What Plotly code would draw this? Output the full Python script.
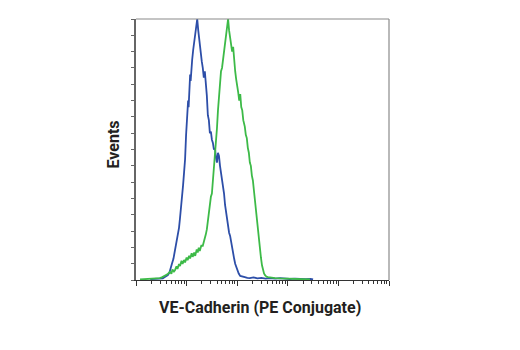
import plotly.graph_objects as go

# log10 of fluorescence intensity, and event counts
blue_logx = [0.28, 0.40, 0.47, 0.53, 0.57, 0.61, 0.63, 0.66, 0.67, 0.70, 0.71, 0.74, 0.77, 0.79, 0.81, 0.83, 0.85, 0.87,
             0.89, 0.91, 0.93, 0.95, 0.97, 0.99, 1.01, 1.03, 1.04, 1.05, 1.07, 1.08, 1.09, 1.11, 1.13, 1.15, 1.17,
             1.19, 1.21, 1.23, 1.25, 1.26, 1.28, 1.30, 1.32, 1.34, 1.36, 1.38, 1.40, 1.42, 1.44, 1.46, 1.48, 1.50,
             1.52, 1.54, 1.56, 1.58, 1.60, 1.62, 1.64, 1.66, 1.68, 1.70, 1.72, 1.74, 1.76, 1.78, 1.80, 1.82, 1.84,
             1.86, 1.88, 1.90, 1.92, 1.94, 1.96, 1.98, 2.00, 2.03, 2.06, 2.10, 2.15, 2.20, 2.25, 2.32, 2.40, 2.48,
             2.56, 2.65, 2.75, 2.85, 2.95, 3.04, 3.14, 3.24, 3.35, 3.45, 3.50]
blue_y = [0.5, 0.9, 1.2, 1.0, 1.8, 2.4, 3.0, 4.5, 6.0, 8.5, 10.0, 13.0, 18.0, 21.0, 25.0, 29.0, 32.0, 38.0,
          44.0, 49.0, 58.0, 66.0, 74.0, 89.0, 98.0, 110.0, 106.0, 117.0, 126.0, 122.0, 130.0, 135.0, 141.0, 146.0, 150.0,
          156.0, 160.0, 153.0, 147.0, 142.0, 138.0, 134.0, 130.0, 124.0, 128.0, 121.0, 113.0, 101.0, 98.0, 90.0, 91.0, 86.0,
          84.0, 80.0, 81.0, 75.0, 72.0, 78.0, 76.0, 70.0, 66.0, 64.0, 58.0, 53.0, 46.0, 42.0, 36.0, 34.0, 29.0,
          27.0, 23.0, 21.0, 17.0, 13.0, 10.0, 8.0, 6.0, 4.0, 2.5, 2.0, 1.8, 1.3, 1.2, 1.6, 1.0, 1.3,
          0.9, 1.1, 0.8, 1.2, 0.7, 0.6, 0.8, 0.6, 0.5, 0.7, 0.4]

green_logx = [0.08, 0.18, 0.28, 0.38, 0.47, 0.52, 0.57, 0.62, 0.67, 0.70, 0.72, 0.75, 0.77, 0.80, 0.82, 0.85, 0.87, 0.90,
              0.92, 0.95, 0.97, 1.00, 1.02, 1.05, 1.07, 1.10, 1.12, 1.15, 1.17, 1.20, 1.22, 1.24, 1.26, 1.29, 1.32,
              1.34, 1.36, 1.38, 1.40, 1.42, 1.44, 1.46, 1.48, 1.50, 1.52, 1.54, 1.56, 1.58, 1.60, 1.62, 1.64, 1.66,
              1.68, 1.70, 1.72, 1.74, 1.76, 1.78, 1.80, 1.82, 1.84, 1.86, 1.88, 1.90, 1.92, 1.94, 1.96, 1.98, 2.00,
              2.02, 2.04, 2.06, 2.08, 2.10, 2.12, 2.15, 2.17, 2.19, 2.21, 2.23, 2.25, 2.27, 2.29, 2.31, 2.33, 2.35,
              2.37, 2.39, 2.41, 2.43, 2.45, 2.47, 2.49, 2.51, 2.53, 2.55, 2.58, 2.61, 2.68, 2.75, 2.85, 2.95, 3.04,
              3.14, 3.24, 3.34, 3.44]
green_y = [0.3, 0.5, 0.6, 0.9, 1.2, 1.8, 2.5, 3.5, 5.0, 3.8, 6.5, 5.2, 6.0, 8.3, 6.8, 9.8, 8.6, 11.8,
           9.8, 12.3, 10.8, 13.8, 12.2, 14.8, 13.2, 16.4, 14.2, 16.8, 14.8, 18.8, 16.8, 19.8, 17.8, 21.0, 21.0,
           23.0, 25.0, 28.0, 31.0, 36.0, 42.0, 49.0, 51.0, 53.0, 60.0, 67.0, 74.0, 86.0, 93.0, 104.0, 113.0, 124.0,
           128.0, 130.0, 135.0, 141.0, 147.0, 153.0, 156.0, 160.0, 153.0, 148.0, 146.0, 140.0, 143.0, 134.0, 128.0, 123.0, 120.0,
           115.0, 110.0, 114.0, 106.0, 104.0, 98.0, 94.0, 89.0, 87.0, 81.0, 78.0, 72.0, 70.0, 64.0, 61.0, 55.0, 49.0,
           42.0, 34.0, 29.0, 25.0, 19.0, 13.5, 9.0, 6.0, 4.0, 3.0, 2.0, 1.8, 1.4, 1.2, 1.0, 0.9, 0.9,
           0.6, 0.7, 0.5, 0.3]

x_title = "VE-Cadherin (PE Conjugate)"
y_title = "Events"

blue = "#2d4ea8"
green = "#3dba48"
title_font = dict(family="Roboto, Liberation Sans, Arial", size=16, color="#231f20", weight="bold")

fig = go.Figure()
fig.add_trace(go.Scatter(x=[10 ** v for v in blue_logx], y=blue_y, mode="lines",
                         line=dict(color=blue, width=1.8), hoverinfo="skip"))
fig.add_trace(go.Scatter(x=[10 ** v for v in green_logx], y=green_y, mode="lines",
                         line=dict(color=green, width=1.8), hoverinfo="skip"))

fig.update_layout(
    width=520, height=350,
    margin=dict(l=136, r=131, t=19, b=70),
    paper_bgcolor="white", plot_bgcolor="white",
    showlegend=False,
    xaxis=dict(type="log", range=[0, 5], showgrid=False, zeroline=False,
               showline=True, linecolor="#333333", linewidth=1.2,
               ticks="outside", ticklen=5, tickcolor="#333333", tickwidth=1,
               dtick=1, showticklabels=False,
               minor=dict(ticks="outside", ticklen=3, tickcolor="#333333", dtick="D1", showgrid=False)),
    yaxis=dict(range=[0, 160], showgrid=False, zeroline=False,
               showline=True, linecolor="#666666", linewidth=1.5,
               ticks="outside", ticklen=3, tickcolor="#666666", dtick=10,
               showticklabels=False),
    shapes=[
        dict(type="line", xref="paper", yref="paper", x0=0, x1=1, y0=1, y1=1,
             line=dict(color="#8a8a8a", width=1.2)),
        dict(type="line", xref="paper", yref="paper", x0=1, x1=1, y0=0, y1=1,
             line=dict(color="#8a8a8a", width=1.2)),
    ],
    annotations=[
        dict(text=x_title, xref="paper", yref="paper", x=0.49, y=-0.105,
             xanchor="center", yanchor="middle", showarrow=False, font=title_font),
        dict(text=y_title, xref="paper", yref="paper", x=-0.09, y=0.52,
             xanchor="center", yanchor="middle", showarrow=False, textangle=-90, font=title_font),
    ],
)

fig.write_html("out.html")
